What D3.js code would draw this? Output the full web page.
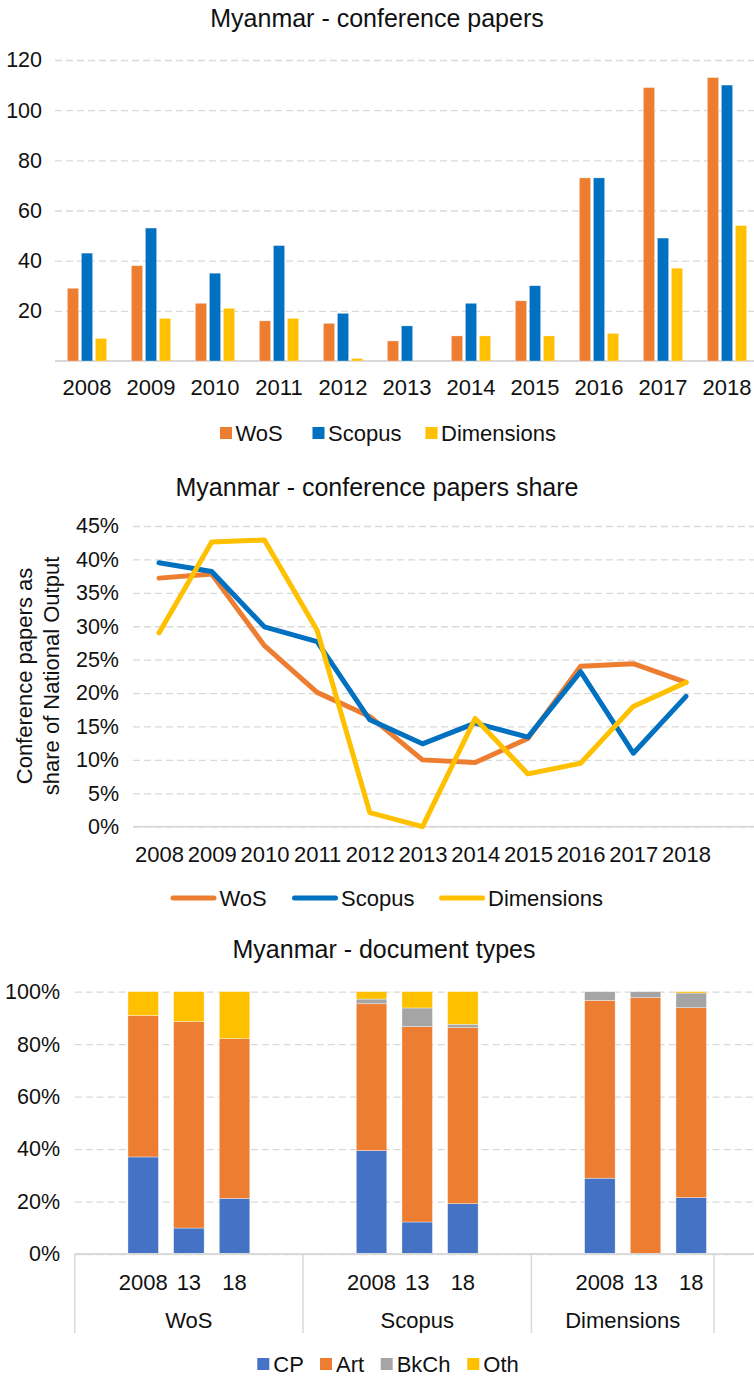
<!DOCTYPE html>
<html><head><meta charset="utf-8">
<script src="https://cdn.jsdelivr.net/npm/d3@7"></script>
<style>
html,body{margin:0;padding:0;background:#fff;}
svg{display:block;font-family:"Liberation Sans",Arial,sans-serif;}
</style></head>
<body>
<svg id="c" width="754" height="1377"></svg>
<script>
// ---------- DATA ----------
const years = ["2008","2009","2010","2011","2012","2013","2014","2015","2016","2017","2018"];
const seriesNames = ["WoS","Scopus","Dimensions"];
const wosCount = [29,38,23,16,15,8,10,24,73,109,113];
const scopusCount = [43,53,35,46,19,14,23,30,73,49,110];
const dimCount = [9,17,21,17,1,0,10,10,11,37,54];
const countTicks = [20,40,60,80,100,120];

const wosShare = [37.2,37.8,27.1,20.1,16.5,10.0,9.6,13.2,24.0,24.4,21.6];
const scopusShare = [39.5,38.2,29.9,27.7,16.0,12.4,15.5,13.4,23.2,11.0,19.5];
const dimShare = [29.0,42.6,42.9,29.4,2.1,0.0,16.2,7.9,9.5,18.0,21.6];
const shareTicks = [0,5,10,15,20,25,30,35,40,45];

const docGroups = ["WoS","Scopus","Dimensions"];
const docYears = ["2008","13","18"];
const docTypes = ["CP","Art","BkCh","Oth"];
const cpPct   = [37.0, 9.9,21.2, 39.4,12.2,19.2, 28.9, 0.0,21.5];
const artPct  = [53.9,78.7,60.9, 56.0,74.5,67.1, 67.8,97.7,72.4];
const bkchPct = [ 0.0, 0.0, 0.0,  1.8, 7.1, 1.3,  3.3, 2.3, 5.6];
const othPct  = [ 9.1,11.4,17.9,  2.8, 6.2,12.4,  0.0, 0.0, 0.5];
const docTicks = [0,20,40,60,80,100];
// category slots of the multi-level axis (blank slots included)
const docSlots = [
  {g:"WoS",y:""},{g:"WoS",y:"2008"},{g:"WoS",y:"13"},{g:"WoS",y:"18"},{g:"WoS",y:" "},
  {g:"Scopus",y:""},{g:"Scopus",y:"2008"},{g:"Scopus",y:"13"},{g:"Scopus",y:"18"},{g:"Scopus",y:" "},
  {g:"Dimensions",y:""},{g:"Dimensions",y:"2008"},{g:"Dimensions",y:"13"},{g:"Dimensions",y:"18"},
  {g:"",y:""}
];

// ---------- STYLE ----------
const C = {WoS:"#ED7D31", Scopus:"#0070C0", Dimensions:"#FFC000"};
const D = {CP:"#4472C4", Art:"#ED7D31", BkCh:"#A5A5A5", Oth:"#FFC000"};
const GRID = "#D9D9D9";
const TXT = "#111";
const FS = 22, TFS = 25, TICKFS = 21.5;

const svg = d3.select("#c");

function styleGrid(g){
  g.select(".domain").remove();
  g.selectAll(".tick line").attr("stroke",GRID).attr("stroke-width",1.3).attr("stroke-dasharray","7,4");
  g.selectAll(".tick text").attr("fill",TXT).attr("font-size",TICKFS).attr("font-family","Liberation Sans, Arial, sans-serif");
}
function title(txt,x,y){
  svg.append("text").attr("x",x).attr("y",y).attr("text-anchor","middle")
    .attr("font-size",TFS).attr("fill",TXT).text(txt);
}

// ================= CHART 1 =================
{
  const left = 55, right = 754, top = 60, bottom = 361;
  title("Myanmar - conference papers", 377, 27);
  const x = d3.scaleBand().domain(years).range([left, 759]).paddingInner(0).paddingOuter(0);
  const xs = d3.scaleBand().domain(seriesNames).range([-21,21]).paddingInner(0.2).paddingOuter(0.1);
  const y = d3.scaleLinear().domain([0,120]).range([bottom, top]);

  svg.append("g").attr("transform",`translate(${left},0)`)
    .call(d3.axisLeft(y).tickValues(countTicks).tickSize(-(right-left)).tickPadding(13))
    .call(styleGrid);
  svg.append("line").attr("x1",left).attr("x2",right).attr("y1",y(0)).attr("y2",y(0))
    .attr("stroke",GRID).attr("stroke-width",1.8);

  const vals = {WoS:wosCount, Scopus:scopusCount, Dimensions:dimCount};
  seriesNames.forEach(s=>{
    svg.append("g").selectAll("rect").data(years).join("rect")
      .attr("x",(d)=>x(d)+x.bandwidth()/2+xs(s))
      .attr("width",xs.bandwidth())
      .attr("y",(d,i)=>y(vals[s][i]))
      .attr("height",(d,i)=>y(0)-y(vals[s][i]))
      .attr("fill",C[s]).attr("stroke","#fff").attr("stroke-width",0.6).attr("stroke-opacity",0.5);
  });

  const xa = svg.append("g").attr("transform",`translate(0,${bottom})`)
    .call(d3.axisBottom(x).tickSize(0));
  xa.select(".domain").remove();
  xa.selectAll("text").attr("y",34).attr("dy",0).attr("font-size",FS).attr("fill",TXT)
    .attr("font-family","Liberation Sans, Arial, sans-serif");

  // legend
  const lg = [{s:"WoS",x:220},{s:"Scopus",x:312.5},{s:"Dimensions",x:425.5}];
  lg.forEach(o=>{
    svg.append("rect").attr("x",o.x).attr("y",427).attr("width",12).attr("height",12).attr("fill",C[o.s]);
    svg.append("text").attr("x",o.x+15.5).attr("y",441).attr("font-size",FS).attr("fill",TXT).text(o.s);
  });
}

// ================= CHART 2 =================
{
  const left = 133, right = 754;
  title("Myanmar - conference papers share", 377, 496);
  const x = d3.scalePoint().domain(years).range([159, 686]);
  const y = d3.scaleLinear().domain([0,45]).range([826.7, 526]);

  svg.append("g").attr("transform",`translate(${left},0)`)
    .call(d3.axisLeft(y).tickValues(shareTicks).tickFormat(d=>d+"%").tickSize(-(right-left)).tickPadding(14))
    .call(styleGrid);
  svg.append("line").attr("x1",left).attr("x2",right).attr("y1",y(0)).attr("y2",y(0))
    .attr("stroke",GRID).attr("stroke-width",1.8);

  const xa = svg.append("g").attr("transform",`translate(0,${y(0)})`)
    .call(d3.axisBottom(x).tickSize(0));
  xa.select(".domain").remove();
  xa.selectAll("text").attr("y",35).attr("dy",0).attr("font-size",FS).attr("fill",TXT)
    .attr("font-family","Liberation Sans, Arial, sans-serif");

  const line = d3.line().x((d,i)=>x(years[i])).y(d=>y(d));
  const vals = {WoS:wosShare, Scopus:scopusShare, Dimensions:dimShare};
  seriesNames.forEach(s=>{
    svg.append("path").datum(vals[s]).attr("d",line).attr("fill","none")
      .attr("stroke",C[s]).attr("stroke-width",5).attr("stroke-linejoin","round").attr("stroke-linecap","round");
  });

  // y-axis title
  const yt = svg.append("text").attr("transform","translate(0,676) rotate(-90)")
    .attr("text-anchor","middle").attr("font-size",FS).attr("fill",TXT);
  yt.append("tspan").attr("x",0).attr("y",32).text("Conference papers as");
  yt.append("tspan").attr("x",0).attr("y",58.5).text("share of National Output");

  // legend
  const lg = [{s:"WoS",x:171},{s:"Scopus",x:292.5},{s:"Dimensions",x:439.5}];
  lg.forEach(o=>{
    svg.append("line").attr("x1",o.x+2).attr("x2",o.x+43).attr("y1",898).attr("y2",898)
      .attr("stroke",C[o.s]).attr("stroke-width",5).attr("stroke-linecap","round");
    svg.append("text").attr("x",o.x+48.5).attr("y",906).attr("font-size",FS).attr("fill",TXT).text(o.s);
  });
}

// ================= CHART 3 =================
{
  const left = 74.7, right = 754;
  title("Myanmar - document types", 384, 958);
  const x = d3.scaleBand().domain(d3.range(docSlots.length)).range([left, 759.7])
    .paddingInner(0.332).paddingOuter(0.166);
  const y = d3.scaleLinear().domain([0,100]).range([1254, 991.7]);

  svg.append("g").attr("transform",`translate(${left},0)`)
    .call(d3.axisLeft(y).tickValues(docTicks).tickFormat(d=>d+"%").tickSize(-(right-left)).tickPadding(14.7))
    .call(styleGrid);

  // build stack data mapping bars to slots
  const bars = [];
  docGroups.forEach((g,gi)=>docYears.forEach((yr,yi)=>{
    const k = gi*docYears.length+yi;
    const slot = docSlots.findIndex(s=>s.g===g && s.y===yr);
    bars.push({slot, CP:cpPct[k], Art:artPct[k], BkCh:bkchPct[k], Oth:othPct[k]});
  }));
  const stacked = d3.stack().keys(docTypes)(bars);
  stacked.forEach(layer=>{
    svg.append("g").selectAll("rect").data(layer.filter(d=>d[1]-d[0]>0)).join("rect")
      .attr("x",d=>x(d.data.slot)).attr("width",x.bandwidth())
      .attr("y",d=>y(d[1])).attr("height",d=>y(d[0])-y(d[1]))
      .attr("fill",D[layer.key]).attr("stroke","#fff").attr("stroke-width",0.6).attr("stroke-opacity",0.6);
  });

  // axis line
  svg.append("line").attr("x1",left).attr("x2",right).attr("y1",y(0)).attr("y2",y(0))
    .attr("stroke",GRID).attr("stroke-width",1.8);

  // inner labels (years) via axis
  const xa = svg.append("g").attr("transform",`translate(0,${y(0)})`)
    .call(d3.axisBottom(x).tickSize(0).tickFormat(i=>docSlots[i].y.trim()));
  xa.select(".domain").remove();
  xa.selectAll("text").attr("y",35.6).attr("dy",0).attr("font-size",FS).attr("fill",TXT)
    .attr("font-family","Liberation Sans, Arial, sans-serif");

  // group dividers and labels
  const step = x.step();
  const edge = i => x(i) + x.bandwidth()/2 - step/2;
  const boundaries = [];
  docSlots.forEach((s,i)=>{ if(i===0 || s.g!==docSlots[i-1].g) boundaries.push(i); });
  boundaries.forEach(i=>{
    svg.append("line").attr("x1",edge(i)).attr("x2",edge(i)).attr("y1",y(0)).attr("y2",1333)
      .attr("stroke",GRID).attr("stroke-width",1.5);
  });
  docGroups.forEach(g=>{
    const idx = docSlots.map((s,i)=>s.g===g?i:-1).filter(i=>i>=0);
    const x0 = edge(idx[0]), x1 = edge(idx[idx.length-1])+step;
    svg.append("text").attr("x",(x0+x1)/2).attr("y",1328).attr("text-anchor","middle")
      .attr("font-size",FS).attr("fill",TXT).text(g);
  });

  // legend
  const lg = [{s:"CP",x:257.3},{s:"Art",x:320},{s:"BkCh",x:380.7},{s:"Oth",x:467.3}];
  lg.forEach(o=>{
    svg.append("rect").attr("x",o.x).attr("y",1358).attr("width",12).attr("height",12).attr("fill",D[o.s]);
    svg.append("text").attr("x",o.x+16).attr("y",1372).attr("font-size",FS).attr("fill",TXT).text(o.s);
  });
}
</script>
</body></html>
